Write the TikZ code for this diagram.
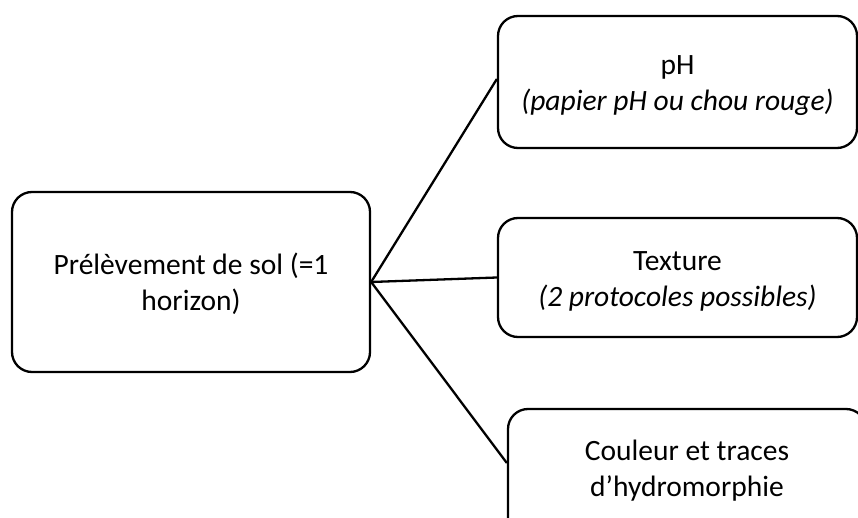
\documentclass[tikz,border=0pt]{standalone}
\usepackage{fontspec}
\setmainfont{Carlito}
\begin{document}
\begin{tikzpicture}[x=1pt,y=-1pt,
  box/.style={draw=black,line width=2.3pt,rounded corners=20pt,inner sep=0pt},
  txt/.style={align=center,inner sep=0pt,font=\fontsize{29.5}{36}\selectfont},
  link/.style={draw=black,line width=2.3pt}]
\clip (0,0) rectangle (858,518);
\useasboundingbox (0,0) rectangle (858,518);
\node[box,minimum width=358pt,minimum height=180pt] (src) at (191,282) {};
\node[box,minimum width=359pt,minimum height=132pt] (ph) at (677.5,82) {};
\node[box,minimum width=359pt,minimum height=119pt] (tex) at (677.5,277.5) {};
\node[box,minimum width=358pt,minimum height=140pt] (col) at (687,479) {};
\node[txt] (srctxt) at ([yshift=-2pt]src.center) {Prélèvement de sol (=1\\horizon)};
\node[txt] (phtxt) at ([yshift=-4pt]ph.center) {pH\\\textit{(papier pH ou chou rouge)}};
\node[txt] (textxt) at ([yshift=-4pt]tex.center) {Texture\\\textit{(2 protocoles possibles)}};
\node[txt] (coltxt) at (687,471) {Couleur et traces\\d’hydromorphie};
\coordinate (o) at (src.east);
\coordinate (colin) at ([yshift=16pt]col.west);
\draw[link] (o) -- ([yshift=3pt]ph.west);
\draw[link] (o) -- (tex.west);
\draw[link] (o) -- (colin);
\end{tikzpicture}
\end{document}
